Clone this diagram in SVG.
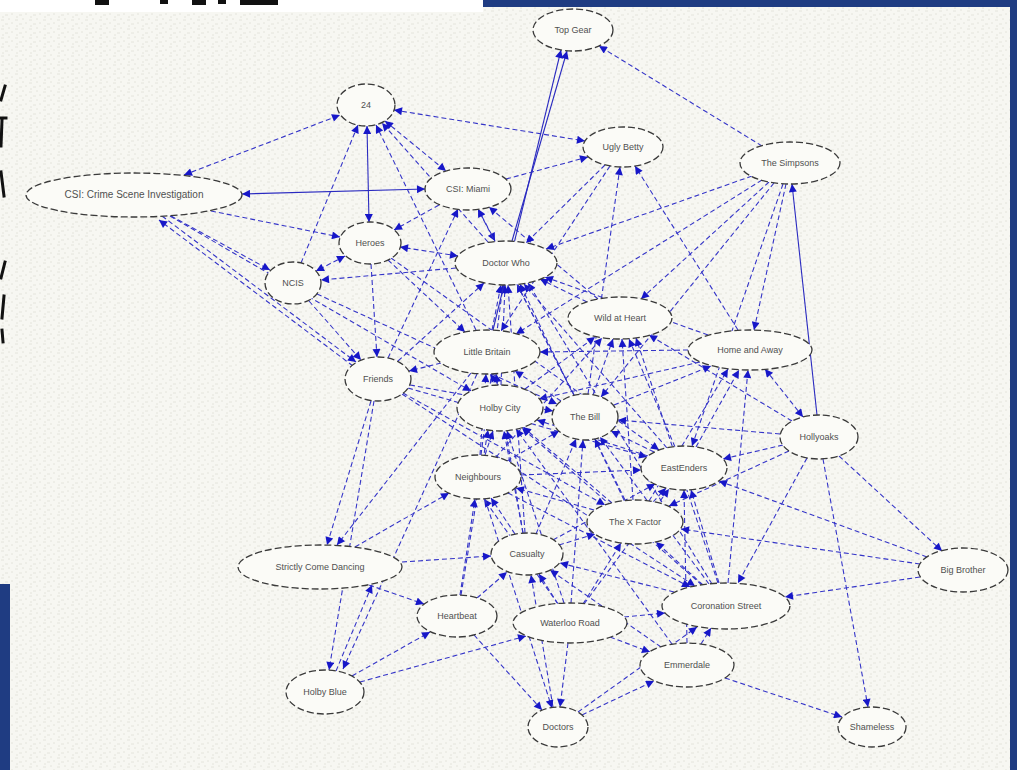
<svg xmlns="http://www.w3.org/2000/svg" width="1017" height="770" viewBox="0 0 1017 770">
<defs>
<pattern id="noise" width="14" height="9" patternUnits="userSpaceOnUse">
<path d="M1,2 h3 M8,1 h2 M5,6 h3 M11,5 h2 M2,8 h2" stroke="#e4e4dc" stroke-width="1"/>
</pattern>
<marker id="ah" viewBox="0 0 10 10" refX="10" refY="5" markerWidth="10" markerHeight="8" markerUnits="userSpaceOnUse" orient="auto">
<path d="M0,0 L10,5 L0,10 z" fill="#1717c8" stroke="none"/>
</marker>
<marker id="ahs" viewBox="0 0 10 10" refX="10" refY="5" markerWidth="10" markerHeight="8" markerUnits="userSpaceOnUse" orient="auto-start-reverse">
<path d="M0,0 L10,5 L0,10 z" fill="#1717c8" stroke="none"/>
</marker>
</defs>
<style>
.e{stroke:#3535c8;stroke-width:1.1;stroke-dasharray:5 3;fill:none;marker-end:url(#ah)}
.b{marker-start:url(#ahs)}
.s{stroke-dasharray:none;stroke:#2a2ac0}
.n ellipse{fill:#fbfbf7;stroke:#3a3a3a;stroke-width:1.3;stroke-dasharray:7 3}
.n text{font-family:"Liberation Sans",Arial,sans-serif;font-size:9px;fill:#505050;text-anchor:middle}
.frag{stroke:#111;stroke-width:3;stroke-linecap:square}
</style>
<rect x="0" y="0" width="1017" height="770" fill="#f7f7f2"/>
<rect x="0" y="0" width="1017" height="770" fill="url(#noise)"/>
<rect x="0" y="0" width="483" height="12" fill="#ffffff"/>
<g id="frame">
<rect x="483" y="0" width="534" height="7" fill="#1f3c82"/>
<rect x="1010" y="0" width="7" height="770" fill="#1f3c82"/>
<rect x="0" y="584" width="10" height="186" fill="#1f3c82"/>
<rect x="95" y="0" width="14" height="5" fill="#111"/>
<rect x="160" y="0" width="8" height="4" fill="#111"/>
<rect x="192" y="0" width="14" height="5" fill="#111"/>
<rect x="218" y="0" width="8" height="4" fill="#111"/>
<rect x="240" y="0" width="38" height="5" fill="#111"/>
<line class="frag" x1="5" y1="86" x2="1" y2="100"/>
<line class="frag" x1="1" y1="118" x2="6" y2="118"/>
<line class="frag" x1="2" y1="120" x2="1" y2="146"/>
<line class="frag" x1="1" y1="172" x2="4" y2="196"/>
<line class="frag" x1="5" y1="262" x2="1" y2="278"/>
<line class="frag" x1="4" y1="296" x2="2" y2="318"/>
<line class="frag" x1="2" y1="330" x2="3" y2="342"/>
</g>
<g id="edges">
<line class="e b" x1="184" y1="175" x2="340" y2="115"/>
<line class="e b" x1="394" y1="110" x2="585" y2="141"/>
<line class="e b" x1="385" y1="121" x2="446" y2="171"/>
<line class="e b s" x1="367" y1="126" x2="369" y2="222"/>
<line class="e" x1="301" y1="263" x2="358" y2="125"/>
<line class="e" x1="488" y1="242" x2="382" y2="123"/>
<line class="e" x1="476" y1="330" x2="376" y2="125"/>
<line class="e" x1="439" y1="205" x2="394" y2="230"/>
<line class="e b s" x1="242" y1="194" x2="425" y2="189"/>
<line class="e" x1="171" y1="216" x2="270" y2="270"/>
<line class="e" x1="162" y1="216" x2="356" y2="362"/>
<line class="e" x1="353" y1="366" x2="159" y2="220"/>
<line class="e" x1="211" y1="211" x2="340" y2="237"/>
<line class="e" x1="170" y1="216" x2="471" y2="391"/>
<line class="e" x1="506" y1="179" x2="588" y2="157"/>
<line class="e" x1="478" y1="209" x2="495" y2="241"/>
<line class="e" x1="388" y1="358" x2="458" y2="209"/>
<line class="e" x1="598" y1="299" x2="489" y2="207"/>
<line class="e" x1="605" y1="165" x2="526" y2="243"/>
<line class="e" x1="738" y1="330" x2="635" y2="166"/>
<line class="e" x1="762" y1="146" x2="599" y2="46"/>
<line class="e" x1="752" y1="176" x2="546" y2="249"/>
<line class="e s" x1="817" y1="415" x2="792" y2="184"/>
<line class="e" x1="769" y1="182" x2="641" y2="299"/>
<line class="e" x1="762" y1="180" x2="516" y2="334"/>
<line class="e" x1="786" y1="184" x2="754" y2="330"/>
<line class="e b" x1="345" y1="256" x2="316" y2="271"/>
<line class="e b" x1="458" y1="256" x2="400" y2="247"/>
<line class="e" x1="371" y1="264" x2="377" y2="357"/>
<line class="e" x1="309" y1="301" x2="361" y2="360"/>
<line class="e" x1="456" y1="268" x2="321" y2="280"/>
<line class="e" x1="388" y1="260" x2="465" y2="332"/>
<line class="e" x1="492" y1="330" x2="501" y2="285"/>
<line class="e" x1="501" y1="385" x2="505" y2="285"/>
<line class="e" x1="398" y1="361" x2="484" y2="283"/>
<line class="e" x1="574" y1="395" x2="517" y2="284"/>
<line class="e" x1="587" y1="302" x2="540" y2="279"/>
<line class="e" x1="708" y1="335" x2="545" y2="277"/>
<line class="e" x1="481" y1="455" x2="503" y2="285"/>
<line class="e" x1="525" y1="533" x2="508" y2="285"/>
<line class="e" x1="624" y1="500" x2="520" y2="284"/>
<line class="e" x1="667" y1="448" x2="524" y2="284"/>
<line class="e" x1="712" y1="584" x2="528" y2="283"/>
<line class="e" x1="593" y1="395" x2="613" y2="339"/>
<line class="e" x1="525" y1="389" x2="595" y2="337"/>
<line class="e" x1="496" y1="457" x2="602" y2="338"/>
<line class="e" x1="633" y1="500" x2="622" y2="339"/>
<line class="e" x1="675" y1="447" x2="629" y2="339"/>
<line class="e" x1="792" y1="421" x2="649" y2="335"/>
<line class="e" x1="718" y1="583" x2="636" y2="338"/>
<line class="e b" x1="803" y1="417" x2="765" y2="369"/>
<line class="e" x1="696" y1="447" x2="739" y2="370"/>
<line class="e" x1="649" y1="501" x2="728" y2="369"/>
<line class="e" x1="614" y1="405" x2="711" y2="366"/>
<line class="e" x1="700" y1="362" x2="539" y2="399"/>
<line class="e" x1="728" y1="583" x2="748" y2="370"/>
<line class="e" x1="688" y1="350" x2="540" y2="352"/>
<line class="e" x1="499" y1="386" x2="490" y2="374"/>
<line class="e" x1="480" y1="455" x2="486" y2="374"/>
<line class="e" x1="523" y1="533" x2="496" y2="374"/>
<line class="e" x1="561" y1="401" x2="515" y2="371"/>
<line class="e" x1="441" y1="363" x2="409" y2="371"/>
<line class="e" x1="402" y1="394" x2="695" y2="586"/>
<line class="e" x1="403" y1="393" x2="605" y2="505"/>
<line class="e" x1="408" y1="388" x2="647" y2="457"/>
<line class="e" x1="371" y1="401" x2="327" y2="545"/>
<line class="e" x1="471" y1="373" x2="337" y2="545"/>
<line class="e" x1="374" y1="401" x2="329" y2="670"/>
<line class="e" x1="410" y1="385" x2="553" y2="411"/>
<line class="e" x1="317" y1="294" x2="557" y2="404"/>
<line class="e" x1="391" y1="258" x2="659" y2="450"/>
<line class="e" x1="485" y1="455" x2="493" y2="431"/>
<line class="e" x1="523" y1="533" x2="504" y2="431"/>
<line class="e" x1="612" y1="503" x2="523" y2="427"/>
<line class="e" x1="648" y1="456" x2="537" y2="420"/>
<line class="e" x1="461" y1="595" x2="488" y2="430"/>
<line class="e" x1="564" y1="603" x2="507" y2="431"/>
<line class="e" x1="702" y1="585" x2="522" y2="428"/>
<line class="e" x1="672" y1="644" x2="516" y2="429"/>
<line class="e" x1="654" y1="452" x2="611" y2="431"/>
<line class="e" x1="625" y1="500" x2="595" y2="439"/>
<line class="e" x1="507" y1="461" x2="559" y2="431"/>
<line class="e" x1="536" y1="534" x2="576" y2="439"/>
<line class="e" x1="709" y1="584" x2="600" y2="437"/>
<line class="e" x1="780" y1="434" x2="618" y2="420"/>
<line class="e" x1="571" y1="603" x2="583" y2="440"/>
<line class="e" x1="588" y1="394" x2="620" y2="167"/>
<line class="e" x1="574" y1="395" x2="478" y2="209"/>
<line class="e" x1="783" y1="445" x2="723" y2="459"/>
<line class="e" x1="839" y1="456" x2="942" y2="551"/>
<line class="e" x1="807" y1="458" x2="738" y2="583"/>
<line class="e" x1="823" y1="459" x2="868" y2="707"/>
<line class="e" x1="789" y1="451" x2="669" y2="506"/>
<line class="e" x1="719" y1="583" x2="691" y2="490"/>
<line class="e" x1="653" y1="502" x2="666" y2="488"/>
<line class="e" x1="521" y1="475" x2="641" y2="470"/>
<line class="e" x1="553" y1="540" x2="655" y2="484"/>
<line class="e" x1="584" y1="604" x2="669" y2="489"/>
<line class="e" x1="687" y1="643" x2="684" y2="490"/>
<line class="e" x1="927" y1="557" x2="719" y2="481"/>
<line class="e" x1="515" y1="534" x2="491" y2="498"/>
<line class="e" x1="594" y1="510" x2="516" y2="488"/>
<line class="e" x1="558" y1="604" x2="484" y2="499"/>
<line class="e" x1="460" y1="595" x2="475" y2="499"/>
<line class="e" x1="355" y1="547" x2="449" y2="493"/>
<line class="e" x1="508" y1="493" x2="690" y2="587"/>
<line class="e" x1="559" y1="545" x2="595" y2="534"/>
<line class="e" x1="583" y1="604" x2="621" y2="543"/>
<line class="e" x1="703" y1="585" x2="656" y2="542"/>
<line class="e" x1="920" y1="564" x2="681" y2="529"/>
<line class="e" x1="920" y1="577" x2="785" y2="597"/>
<line class="e" x1="402" y1="562" x2="491" y2="556"/>
<line class="e" x1="477" y1="598" x2="507" y2="572"/>
<line class="e" x1="558" y1="604" x2="539" y2="574"/>
<line class="e" x1="674" y1="592" x2="560" y2="563"/>
<line class="e" x1="661" y1="647" x2="550" y2="570"/>
<line class="e" x1="553" y1="707" x2="531" y2="575"/>
<line class="e" x1="336" y1="671" x2="372" y2="585"/>
<line class="e" x1="369" y1="585" x2="424" y2="604"/>
<line class="e" x1="352" y1="676" x2="430" y2="632"/>
<line class="e" x1="360" y1="682" x2="526" y2="636"/>
<line class="e" x1="477" y1="374" x2="343" y2="669"/>
<line class="e" x1="474" y1="635" x2="542" y2="710"/>
<line class="e" x1="568" y1="643" x2="560" y2="707"/>
<line class="e" x1="485" y1="499" x2="552" y2="708"/>
<line class="e" x1="610" y1="637" x2="650" y2="652"/>
<line class="e" x1="582" y1="715" x2="654" y2="681"/>
<line class="e" x1="701" y1="644" x2="711" y2="628"/>
<line class="e" x1="725" y1="678" x2="842" y2="717"/>
<line class="e" x1="578" y1="712" x2="697" y2="627"/>
<line class="e" x1="624" y1="617" x2="665" y2="613"/>
<line class="e" x1="783" y1="184" x2="692" y2="446"/>
<line class="e" x1="774" y1="183" x2="601" y2="397"/>
<line class="e s" x1="493" y1="330" x2="561" y2="50"/>
<line class="e s" x1="512" y1="241" x2="567" y2="51"/>
<line class="e" x1="610" y1="166" x2="501" y2="331"/>
</g>
<g id="n-topgear" class="n"><ellipse cx="573" cy="30" rx="40" ry="21"/><text x="573" y="33">Top Gear</text></g>
<g id="n-24" class="n"><ellipse cx="366" cy="105" rx="29" ry="21"/><text x="366" y="108">24</text></g>
<g id="n-uglybetty" class="n"><ellipse cx="623" cy="147" rx="40" ry="20"/><text x="623" y="150">Ugly Betty</text></g>
<g id="n-simpsons" class="n"><ellipse cx="790" cy="163" rx="50" ry="21"/><text x="790" y="166">The Simpsons</text></g>
<g id="n-csi" class="n"><ellipse cx="134" cy="195" rx="108" ry="22"/><text x="134" y="198" style="font-size:10px">CSI: Crime Scene Investigation</text></g>
<g id="n-csimiami" class="n"><ellipse cx="468" cy="189" rx="43" ry="21"/><text x="468" y="192">CSI: Miami</text></g>
<g id="n-heroes" class="n"><ellipse cx="370" cy="243" rx="31" ry="21"/><text x="370" y="246">Heroes</text></g>
<g id="n-doctorwho" class="n"><ellipse cx="506" cy="263" rx="51" ry="22"/><text x="506" y="266">Doctor Who</text></g>
<g id="n-ncis" class="n"><ellipse cx="293" cy="283" rx="28" ry="21"/><text x="293" y="286">NCIS</text></g>
<g id="n-wildatheart" class="n"><ellipse cx="620" cy="318" rx="52" ry="21"/><text x="620" y="321">Wild at Heart</text></g>
<g id="n-homeandaway" class="n"><ellipse cx="750" cy="350" rx="62" ry="20"/><text x="750" y="353">Home and Away</text></g>
<g id="n-littlebritain" class="n"><ellipse cx="487" cy="352" rx="53" ry="22"/><text x="487" y="355">Little Britain</text></g>
<g id="n-friends" class="n"><ellipse cx="378" cy="379" rx="33" ry="22"/><text x="378" y="382">Friends</text></g>
<g id="n-holbycity" class="n"><ellipse cx="500" cy="408" rx="43" ry="23"/><text x="500" y="411">Holby City</text></g>
<g id="n-thebill" class="n"><ellipse cx="585" cy="417" rx="33" ry="23"/><text x="585" y="420">The Bill</text></g>
<g id="n-hollyoaks" class="n"><ellipse cx="819" cy="437" rx="39" ry="22"/><text x="819" y="440">Hollyoaks</text></g>
<g id="n-eastenders" class="n"><ellipse cx="684" cy="468" rx="43" ry="22"/><text x="684" y="471">EastEnders</text></g>
<g id="n-neighbours" class="n"><ellipse cx="478" cy="477" rx="43" ry="22"/><text x="478" y="480">Neighbours</text></g>
<g id="n-xfactor" class="n"><ellipse cx="635" cy="522" rx="48" ry="22"/><text x="635" y="525">The X Factor</text></g>
<g id="n-casualty" class="n"><ellipse cx="527" cy="554" rx="36" ry="21"/><text x="527" y="557">Casualty</text></g>
<g id="n-strictly" class="n"><ellipse cx="320" cy="567" rx="82" ry="22"/><text x="320" y="570">Strictly Come Dancing</text></g>
<g id="n-bigbrother" class="n"><ellipse cx="963" cy="570" rx="45" ry="22"/><text x="963" y="573">Big Brother</text></g>
<g id="n-corrie" class="n"><ellipse cx="726" cy="606" rx="64" ry="23"/><text x="726" y="609">Coronation Street</text></g>
<g id="n-heartbeat" class="n"><ellipse cx="457" cy="616" rx="40" ry="21"/><text x="457" y="619">Heartbeat</text></g>
<g id="n-waterloo" class="n"><ellipse cx="570" cy="623" rx="57" ry="20"/><text x="570" y="626">Waterloo Road</text></g>
<g id="n-emmerdale" class="n"><ellipse cx="687" cy="665" rx="47" ry="22"/><text x="687" y="668">Emmerdale</text></g>
<g id="n-holbyblue" class="n"><ellipse cx="325" cy="692" rx="39" ry="22"/><text x="325" y="695">Holby Blue</text></g>
<g id="n-doctors" class="n"><ellipse cx="558" cy="727" rx="30" ry="20"/><text x="558" y="730">Doctors</text></g>
<g id="n-shameless" class="n"><ellipse cx="872" cy="727" rx="34" ry="20"/><text x="872" y="730">Shameless</text></g>
</svg>
